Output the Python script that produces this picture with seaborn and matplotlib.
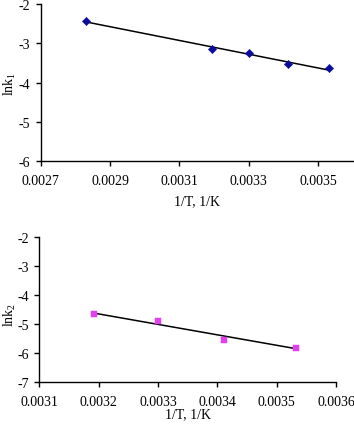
import matplotlib
matplotlib.use("Agg")
import matplotlib.pyplot as plt
import matplotlib.ticker as mticker
import seaborn as sns
import numpy as np

# data
inv_t1 = [0.002831, 0.003193, 0.003300, 0.003413, 0.003531]
lnk1 = [-2.43, -3.14, -3.24, -3.53, -3.63]

inv_t2 = [0.003193, 0.003300, 0.003412, 0.003533]
lnk2 = [-4.67, -4.89, -5.54, -5.81]

x1_ticks = [0.0027, 0.0029, 0.0031, 0.0033, 0.0035]
y1_ticks = [-6, -5, -4, -3, -2]
x2_ticks = [0.0031, 0.0032, 0.0033, 0.0034, 0.0035, 0.0036]
y2_ticks = [-7, -6, -5, -4, -3, -2]

sns.set_theme(style="ticks")
plt.rcParams["font.family"] = ["Liberation Serif", "DejaVu Serif"]
plt.rcParams["mathtext.fontset"] = "custom"
plt.rcParams["mathtext.rm"] = "Liberation Serif"
plt.rcParams["axes.unicode_minus"] = False

fig = plt.figure(figsize=(3.54, 4.31), dpi=100)
ax1 = fig.add_axes([0.115, 0.624, 0.881, 0.364])
ax2 = fig.add_axes([0.111, 0.111, 0.838, 0.3375])


def style_axis(ax, xticks, yticks, xlim, ylim, ylabel, xlab_y, ylab_x, ylab_y):
    ax.set_xlim(*xlim)
    ax.set_ylim(*ylim)
    ax.set_xticks(xticks)
    ax.set_yticks(yticks)
    ax.xaxis.set_major_formatter(mticker.FormatStrFormatter("%.4f"))
    ax.yaxis.set_major_formatter(mticker.FormatStrFormatter("%d"))
    ax.tick_params(axis="both", direction="out", length=3.5, width=1,
                   color="black", labelsize=10, labelcolor="black", pad=4)
    ax.tick_params(axis="x", pad=6)
    for side in ["top", "right"]:
        ax.spines[side].set_visible(False)
    for side in ["left", "bottom"]:
        ax.spines[side].set_color("black")
        ax.spines[side].set_linewidth(1)
    ax.set_facecolor("white")
    ax.set_xlabel("1/T, 1/K", fontsize=10, color="black", va="center")
    ax.set_ylabel(ylabel, fontsize=10, color="black", va="center")
    ax.xaxis.set_label_coords(0.5, xlab_y)
    ax.yaxis.set_label_coords(ylab_x, ylab_y)


# top panel
sns.regplot(x=inv_t1, y=lnk1, ax=ax1, scatter=False, ci=None,
            color="black", line_kws={"linewidth": 1.1})
sns.scatterplot(x=inv_t1, y=lnk1, ax=ax1, marker="D", s=18,
                color="#0a0a9c", edgecolor="#0a0a9c", zorder=3)
style_axis(ax1, x1_ticks, y1_ticks, (0.0027, 0.0036), (-6, -2),
           r"lnk$_{\mathregular{1}}$", -0.25, -0.1, 0.5)

# bottom panel
sns.regplot(x=inv_t2, y=lnk2, ax=ax2, scatter=False, ci=None,
            color="black", line_kws={"linewidth": 1.1})
sns.scatterplot(x=inv_t2, y=lnk2, ax=ax2, marker="s", s=18,
                color="#e040f0", edgecolor="#e040f0", zorder=3)
style_axis(ax2, x2_ticks, y2_ticks, (0.0031, 0.0036), (-7, -2),
           r"lnk$_{\mathregular{2}}$", -0.22, -0.1, 0.47)

fig.savefig("out.png", dpi=100, facecolor="white")
